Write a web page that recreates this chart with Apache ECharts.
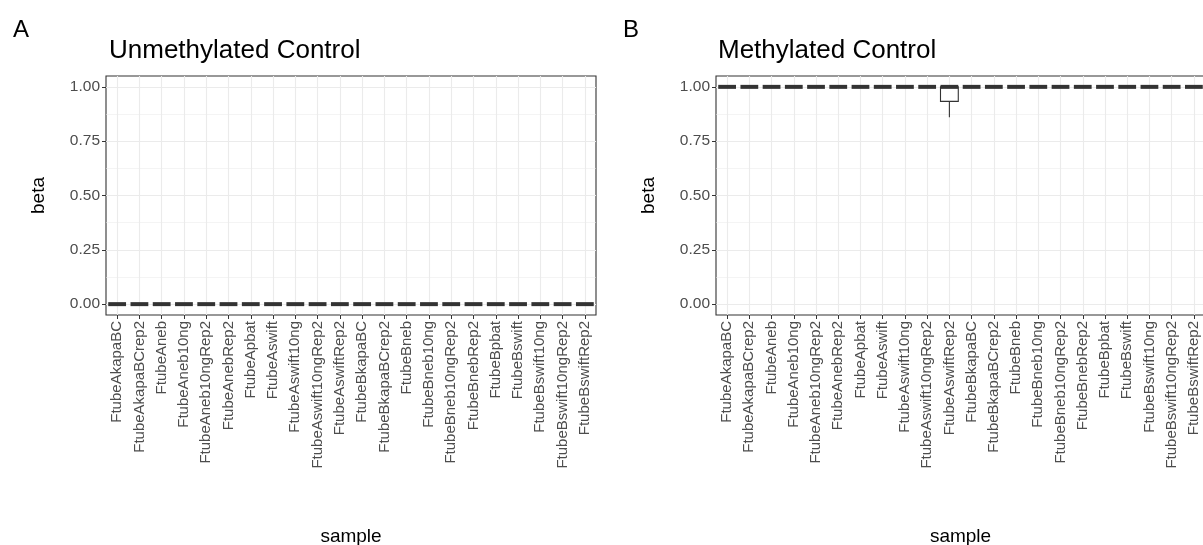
<!DOCTYPE html>
<html>
<head>
<meta charset="utf-8">
<script src="https://cdn.jsdelivr.net/npm/echarts@6/dist/echarts.min.js"></script>
<style>
  html, body { margin: 0; padding: 0; background: #fff; }
  #chart { width: 1203px; height: 545px; }
</style>
</head>
<body>
<div id="chart"></div>
<script>
var samples = ["FtubeAkapaBC", "FtubeAkapaBCrep2", "FtubeAneb", "FtubeAneb10ng", "FtubeAneb10ngRep2",
  "FtubeAnebRep2", "FtubeApbat", "FtubeAswift", "FtubeAswift10ng", "FtubeAswift10ngRep2",
  "FtubeAswiftRep2", "FtubeBkapaBC", "FtubeBkapaBCrep2", "FtubeBneb", "FtubeBneb10ng",
  "FtubeBneb10ngRep2", "FtubeBnebRep2", "FtubeBpbat", "FtubeBswift", "FtubeBswift10ng",
  "FtubeBswift10ngRep2", "FtubeBswiftRep2"];

// box stats per sample: [min, q1, median, q3, max]
var unmethStats = [
  [0, 0, 0, 0, 0], [0, 0, 0, 0, 0], [0, 0, 0, 0, 0], [0, 0, 0, 0, 0], [0, 0, 0, 0, 0], [0, 0, 0, 0, 0],
  [0, 0, 0, 0, 0], [0, 0, 0, 0, 0], [0, 0, 0, 0, 0], [0, 0, 0, 0, 0], [0, 0, 0, 0, 0], [0, 0, 0, 0, 0],
  [0, 0, 0, 0, 0], [0, 0, 0, 0, 0], [0, 0, 0, 0, 0], [0, 0, 0, 0, 0], [0, 0, 0, 0, 0], [0, 0, 0, 0, 0],
  [0, 0, 0, 0, 0], [0, 0, 0, 0, 0], [0, 0, 0, 0, 0], [0, 0, 0, 0, 0]
];
var methStats = [
  [1, 1, 1, 1, 1], [1, 1, 1, 1, 1], [1, 1, 1, 1, 1], [1, 1, 1, 1, 1], [1, 1, 1, 1, 1], [1, 1, 1, 1, 1],
  [1, 1, 1, 1, 1], [1, 1, 1, 1, 1], [1, 1, 1, 1, 1], [1, 1, 1, 1, 1], [0.86, 0.933, 1, 1, 1], [1, 1, 1, 1, 1],
  [1, 1, 1, 1, 1], [1, 1, 1, 1, 1], [1, 1, 1, 1, 1], [1, 1, 1, 1, 1], [1, 1, 1, 1, 1], [1, 1, 1, 1, 1],
  [1, 1, 1, 1, 1], [1, 1, 1, 1, 1], [1, 1, 1, 1, 1], [1, 1, 1, 1, 1]
];
var yTicks = [0, 0.25, 0.5, 0.75, 1];
var yMinor = [0.125, 0.375, 0.625, 0.875];

var mychart = echarts.init(document.getElementById("chart"));
var FONT = "Liberation Sans";

function toRows(stats) {
  var rows = [];
  for (var i = 0; i < stats.length; i++) {
    rows.push([i].concat(stats[i]));
  }
  return rows;
}

// ggplot-like box: thin box + whiskers, thick median bar
function renderBox(params, api) {
  var x = api.value(0);
  var lo = api.coord([x, api.value(1)]);
  var q1 = api.coord([x, api.value(2)]);
  var md = api.coord([x, api.value(3)]);
  var q3 = api.coord([x, api.value(4)]);
  var hi = api.coord([x, api.value(5)]);
  var half = api.size([1, 0])[0] * 0.4;
  var cx = md[0];
  var thin = { stroke: "#333333", lineWidth: 1.1 };
  var kids = [];
  if (hi[1] < q3[1]) kids.push({ type: "line", shape: { x1: cx, y1: hi[1], x2: cx, y2: q3[1] }, style: thin });
  if (lo[1] > q1[1]) kids.push({ type: "line", shape: { x1: cx, y1: q1[1], x2: cx, y2: lo[1] }, style: thin });
  if (q1[1] - q3[1] > 0.5) {
    kids.push({ type: "rect", shape: { x: cx - half, y: q3[1], width: half * 2, height: q1[1] - q3[1] },
      style: { fill: "#ffffff", stroke: "#333333", lineWidth: 1.1 } });
  }
  kids.push({ type: "line", shape: { x1: cx - half, y1: md[1], x2: cx + half, y2: md[1] },
    style: { stroke: "#333333", lineWidth: 4, lineCap: "butt" } });
  return { type: "group", children: kids };
}

function xAxisFor(gi) {
  return {
    type: "category",
    gridIndex: gi,
    position: "bottom",
    data: samples,
    boundaryGap: true,
    name: "sample",
    nameLocation: "middle",
    nameGap: 212,
    nameTextStyle: { color: "#000", fontSize: 19, fontFamily: FONT },
    axisLine: { show: false, onZero: false },
    axisTick: { show: true, alignWithLabel: true, interval: 0, length: 4, lineStyle: { color: "#333333", width: 1 } },
    axisLabel: { interval: 0, rotate: 90, margin: 6, color: "#4D4D4D", fontSize: 15, fontFamily: FONT },
    splitLine: { show: true, interval: 0, alignWithLabel: true, lineStyle: { color: "#EBEBEB", width: 1.1 } }
  };
}

function yAxisFor(gi) {
  return {
    type: "value",
    gridIndex: gi,
    position: "left",
    min: -0.05,
    max: 1.05,
    name: "beta",
    nameLocation: "middle",
    nameGap: 58,
    nameTextStyle: { color: "#000", fontSize: 19, fontFamily: FONT },
    axisLine: { show: false, onZero: false },
    axisTick: { show: true, customValues: yTicks, length: 4, lineStyle: { color: "#333333", width: 1 } },
    axisLabel: { customValues: yTicks, margin: 6, color: "#4D4D4D", fontSize: 15.5, fontFamily: FONT,
      formatter: function (v) { return v.toFixed(2); } },
    splitLine: { show: true, lineStyle: { color: "#EBEBEB", width: 1.1 } }
  };
}

function minorAxisFor(gi) {
  return {
    type: "value",
    gridIndex: gi,
    position: "left",
    min: -0.05,
    max: 1.05,
    axisLine: { show: false, onZero: false },
    axisTick: { show: false, customValues: yMinor },
    axisLabel: { show: false, customValues: yMinor },
    splitLine: { show: true, lineStyle: { color: "#EBEBEB", width: 0.55 } }
  };
}

var option = {
  animation: false,
  backgroundColor: "#ffffff",
  title: [
    { text: "A", left: 8, top: 13, textStyle: { color: "#000", fontSize: 24, fontWeight: "normal", fontFamily: FONT } },
    { text: "Unmethylated Control", left: 104, top: 33, textStyle: { color: "#000", fontSize: 26, fontWeight: "normal", fontFamily: FONT } },
    { text: "B", left: 618, top: 13, textStyle: { color: "#000", fontSize: 24, fontWeight: "normal", fontFamily: FONT } },
    { text: "Methylated Control", left: 713, top: 33, textStyle: { color: "#000", fontSize: 26, fontWeight: "normal", fontFamily: FONT } }
  ],
  grid: [
    { left: 106, top: 76, width: 490, height: 239, outerBoundsMode: "none", containLabel: false,
      show: true, borderColor: "#333333", borderWidth: 1.1, backgroundColor: "transparent" },
    { left: 716, top: 76, width: 489, height: 239, outerBoundsMode: "none", containLabel: false,
      show: true, borderColor: "#333333", borderWidth: 1.1, backgroundColor: "transparent" }
  ],
  xAxis: [xAxisFor(0), xAxisFor(1)],
  yAxis: [minorAxisFor(0), yAxisFor(0), minorAxisFor(1), yAxisFor(1)],
  series: [
    { type: "custom", name: "Unmethylated", xAxisIndex: 0, yAxisIndex: 1, renderItem: renderBox,
      encode: { x: 0, y: [1, 2, 3, 4, 5] }, data: toRows(unmethStats), clip: false, z: 5 },
    { type: "custom", name: "Methylated", xAxisIndex: 1, yAxisIndex: 3, renderItem: renderBox,
      encode: { x: 0, y: [1, 2, 3, 4, 5] }, data: toRows(methStats), clip: false, z: 5 }
  ]
};
mychart.setOption(option);
</script>
</body>
</html>
